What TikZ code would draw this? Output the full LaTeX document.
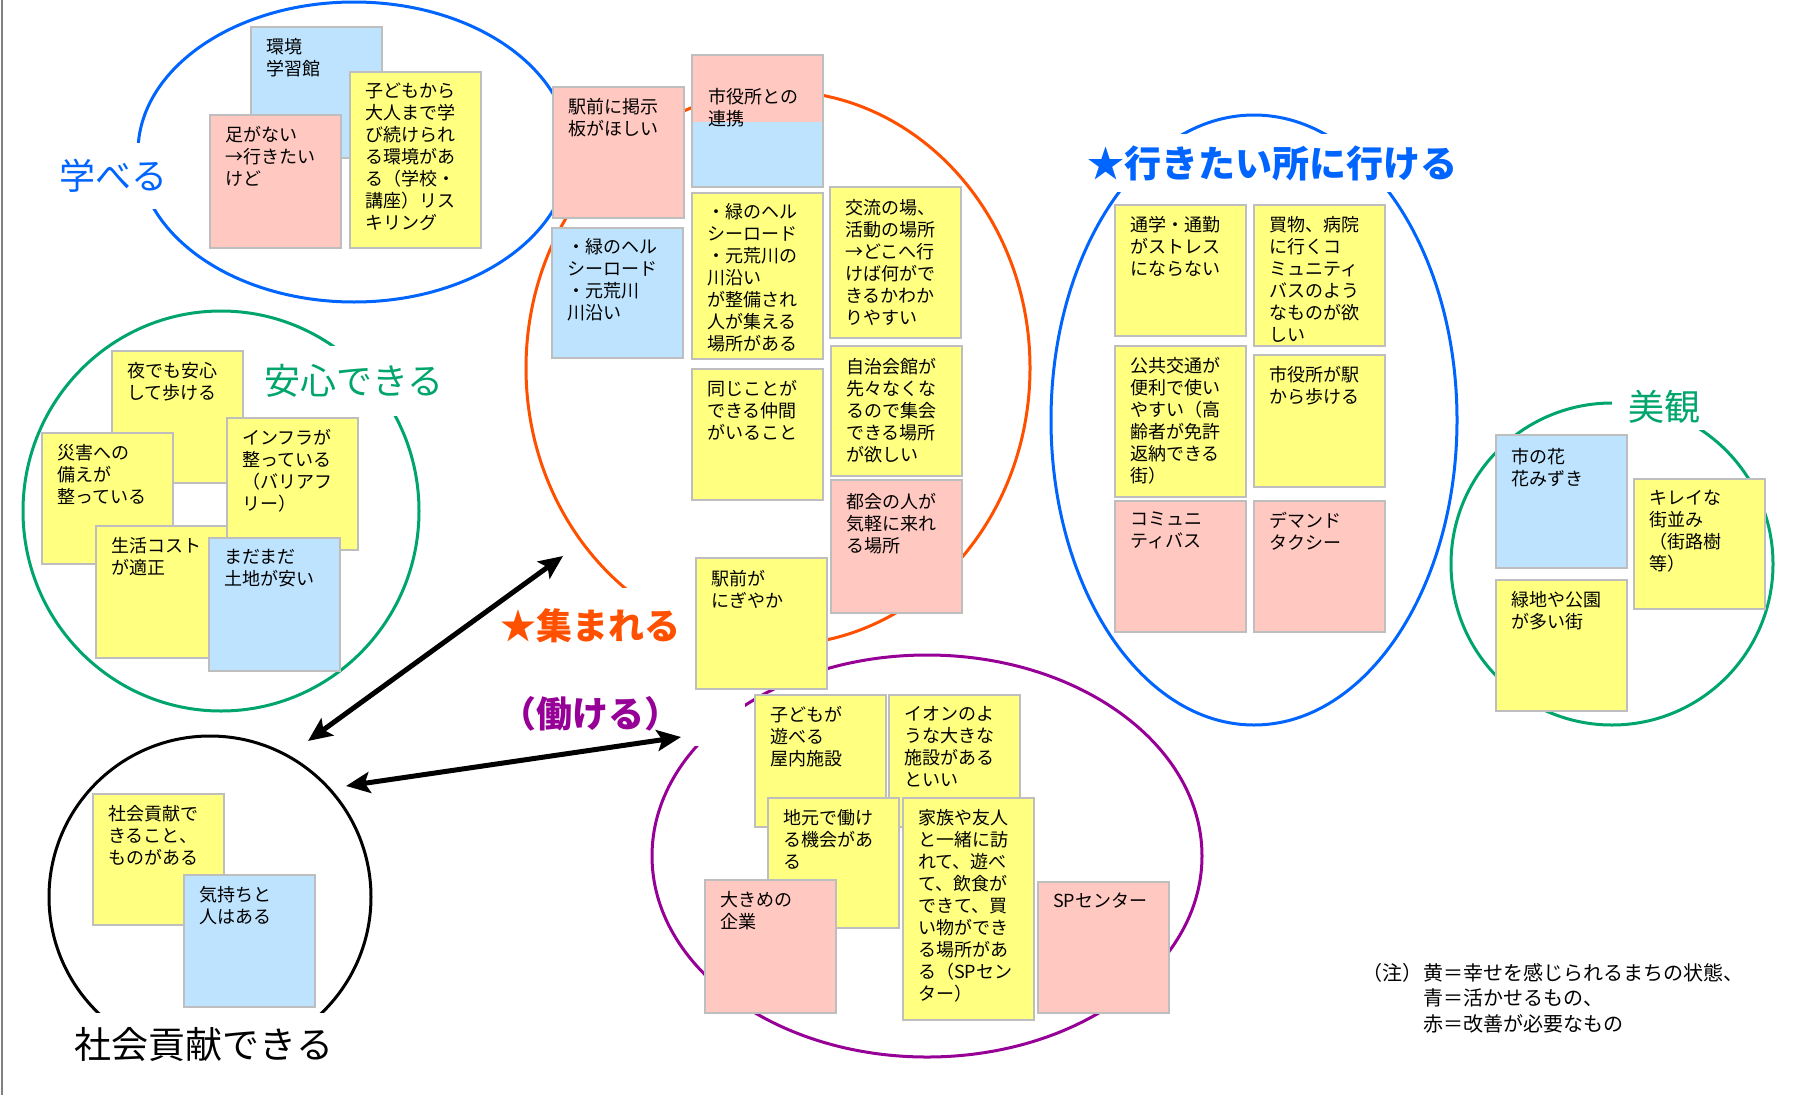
\documentclass[tikz,border=0pt]{standalone}
\usepackage{fontspec}
\setmainfont{Noto Sans CJK JP}
\usepackage{tikz}
\usetikzlibrary{arrows.meta}

\definecolor{fusenyellow}{RGB}{255,255,128}
\definecolor{fusenpink}{RGB}{255,200,192}
\definecolor{fusenblue}{RGB}{189,227,254}
\definecolor{fusenline}{RGB}{190,190,190}
\definecolor{manabu}{RGB}{0,100,255}
\definecolor{anshin}{RGB}{0,165,108}
\definecolor{atsumaru}{RGB}{255,80,0}
\definecolor{hataraku}{RGB}{150,0,150}

\tikzset{
  fusen/.style={draw=fusenline, line width=1.5pt, anchor=north west,
                minimum width=131pt, inner sep=0pt},
  fusentext/.style={anchor=north west, align=left, inner sep=0pt,
                    font=\fontsize{18}{22}\selectfont},
  wa/.style={line width=3pt},
  midashi/.style={fill=white, inner sep=0pt, font=\fontsize{36}{40}\selectfont},
  yajirushi/.style={line width=5pt,
    {Stealth[length=24pt,width=21pt,inset=5pt]}-{Stealth[length=24pt,width=21pt,inset=5pt]}},
  chu/.style={inner sep=0pt, anchor=north west, align=left,
              font=\fontsize{20}{25.5}\selectfont}
}

% name, colour, top left, height, text
\newcommand{\fusen}[6][12pt]{%
  \node[fusen, fill=#3, minimum height=#5pt] (#2) at (#4) {};
  \node[fusentext] (#2-t) at ([xshift=16pt,yshift=-#1]#2.north west) {#6};}

\begin{document}
\begin{tikzpicture}[x=1pt, y=-1pt]
\useasboundingbox (0,0) rectangle (1798,1095);
\draw[gray, line width=2pt] (2,0) -- (2,1095);

% circles
\draw[wa, manabu]   (354,152)  ellipse [x radius=216pt, y radius=150pt];
\draw[wa, atsumaru] (778,368)  ellipse [x radius=252pt, y radius=277pt];
\draw[wa, manabu]   (1254,420) ellipse [x radius=203pt, y radius=305pt];
\draw[wa, anshin]   (221,511)  ellipse [x radius=198pt, y radius=200pt];
\draw[wa, anshin]   (1612,564) circle [radius=161pt];
\draw[wa, hataraku] (927,856)  ellipse [x radius=275pt, y radius=201pt];
\draw[wa]           (210,897)  circle [radius=161pt];

% headings
\node[midashi, text=manabu, minimum width=112pt, minimum height=66pt] (manaberu) at (113,176) {学べる};
\node[midashi, text=anshin, minimum width=200pt, minimum height=70pt] (anshindekiru) at (354,381) {安心できる};
\node[midashi, text=atsumaru, font=\fontsize{36}{40}\selectfont\bfseries,
      minimum width=214pt, minimum height=76pt] (atsumareru) at (590,626) {★集まれる};
\node[midashi, text=manabu, font=\fontsize{37}{40}\selectfont\bfseries,
      minimum width=376pt, minimum height=58pt] (ikeru) at (1272,163) {★行きたい所に行ける};
\node[midashi, text=anshin, minimum width=104pt, minimum height=46pt] (bikan) at (1664,407) {美観};
\node[midashi, text=hataraku, font=\fontsize{36}{40}\selectfont\bfseries,
      minimum width=310pt, minimum height=64pt] (hatarakeru) at (590,714) {（働ける）};
\node[midashi, font=\fontsize{37}{40}\selectfont,
      minimum width=266pt, minimum height=62pt] (kouken) at (204,1044) {社会貢献できる};

% manaberu
\fusen{kankyo}{fusenblue}{250,26}{131}{環境\\学習館}
\fusen{ashi}{fusenpink}{209,114}{133}{足がない\\→行きたい\\けど}
\fusen{risuki}{fusenyellow}{349,71}{176}{子どもから\\大人まで学\\び続けられ\\る環境があ\\る（学校・\\講座）リス\\キリング}

% atsumareru
\fusen{keiji}{fusenpink}{552,86}{131}{駅前に掲示\\板がほしい}
\node[fusen, fill=fusenblue, minimum height=132pt,
      path picture={\fill[fusenpink] (path picture bounding box.north west)
        rectangle ([yshift=-67pt]path picture bounding box.north east);}] (renkei) at (691,54) {};
\node[fusentext] (renkei-t) at ([xshift=17pt,yshift=-34pt]renkei.north west) {市役所との\\連携};
\fusen[11pt]{herusi}{fusenblue}{551,227}{130}{・緑のヘル\\シーロード\\・元荒川\\川沿い}
\fusen[11pt]{seibi}{fusenyellow}{691,192}{166}{・緑のヘル\\シーロード\\・元荒川の\\川沿い\\が整備され\\人が集える\\場所がある}
\fusen[13pt]{koryu}{fusenyellow}{829,186}{151}{交流の場、\\活動の場所\\→どこへ行\\けば何がで\\きるかわか\\りやすい}
\fusen{nakama}{fusenyellow}{691,368}{131}{同じことが\\できる仲間\\がいること}
\fusen[13pt]{jichikai}{fusenyellow}{830,345}{130}{自治会館が\\先々なくな\\るので集会\\できる場所\\が欲しい}
\fusen[14pt]{tokai}{fusenpink}{830,479}{133}{都会の人が\\気軽に来れ\\る場所}
\fusen[13pt]{nigiyaka}{fusenyellow}{695,557}{131}{駅前が\\にぎやか}

% ikeru
\fusen{tsugaku}{fusenyellow}{1114,204}{131}{通学・通勤\\がストレス\\にならない}
\fusen{kaimono}{fusenyellow}{1253,204}{141}{買物、病院\\に行くコ\\ミュニティ\\バスのよう\\なものが欲\\しい}
\fusen{kokyo}{fusenyellow}{1114,345}{151}{公共交通が\\便利で使い\\やすい（高\\齢者が免許\\返納できる\\街）}
\fusen{eki}{fusenyellow}{1253,354}{132}{市役所が駅\\から歩ける}
\fusen{komibasu}{fusenpink}{1114,500}{131}{コミュニ\\ティバス}
\fusen{demando}{fusenpink}{1253,500}{131}{デマンド\\タクシー}

% bikan
\fusen[14pt]{hana}{fusenblue}{1495,434}{133}{市の花\\花みずき}
\fusen{machinami}{fusenyellow}{1633,478}{130}{キレイな\\街並み\\（街路樹\\等）}
\fusen{ryokuchi}{fusenyellow}{1495,579}{131}{緑地や公園\\が多い街}

% anshindekiru
\fusen{yoru}{fusenyellow}{111,350}{132}{夜でも安心\\して歩ける}
\fusen{saigai}{fusenyellow}{41,432}{131}{災害への\\備えが\\整っている}
\fusen{infura}{fusenyellow}{226,417}{132}{インフラが\\整っている\\（バリアフ\\リー）}
\fusen{kosuto}{fusenyellow}{95,525}{132}{生活コスト\\が適正}
\fusen{tochi}{fusenblue}{208,537}{133}{まだまだ\\土地が安い}

% kouken
\fusen{koukendekiru}{fusenyellow}{92,793}{131}{社会貢献で\\きること、\\ものがある}
\fusen{kimochi}{fusenblue}{183,874}{132}{気持ちと\\人はある}

% hatarakeru
\fusen{asoberu}{fusenyellow}{754,694}{132}{子どもが\\遊べる\\屋内施設}
\fusen{aeon}{fusenyellow}{888,694}{132}{イオンのよ\\うな大きな\\施設がある\\といい}
\fusen{jimoto}{fusenyellow}{767,797}{130}{地元で働け\\る機会があ\\る}
\fusen{kazoku}{fusenyellow}{902,797}{222}{家族や友人\\と一緒に訪\\れて、遊べ\\て、飲食が\\できて、買\\い物ができ\\る場所があ\\る（SPセン\\ター）}
\fusen{kigyo}{fusenpink}{704,879}{133}{大きめの\\企業}
\fusen{spcenter}{fusenpink}{1037,881}{131}{SPセンター}

% arrows
\coordinate (atsumaru-p) at (563,556);
\coordinate (kouken-p1) at (308,741);
\coordinate (kouken-p2) at (346,786);
\coordinate (hataraku-p) at (681,737);
\foreach \a/\b in {kouken-p1/atsumaru-p, kouken-p2/hataraku-p}
  \draw[yajirushi] (\a) -- (\b);

% legend
\node[chu] (chu) at (1362,963) {（注）};
\node[chu] (hanrei) at (1423,963) {黄＝幸せを感じられるまちの状態、\\青＝活かせるもの、\\赤＝改善が必要なもの};
\end{tikzpicture}
\end{document}
